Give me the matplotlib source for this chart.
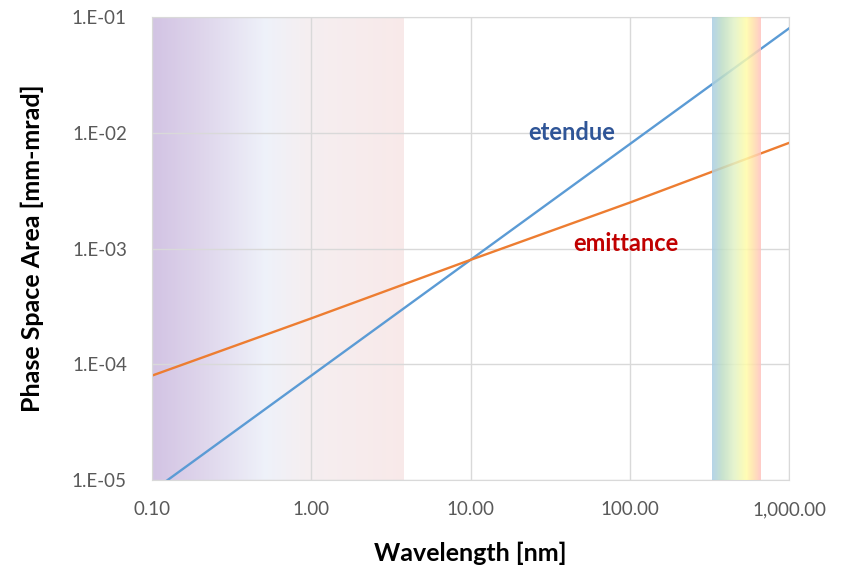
import numpy as np
import matplotlib.pyplot as plt
from matplotlib.colors import LinearSegmentedColormap
from matplotlib.ticker import FixedLocator, FixedFormatter, NullLocator

plt.rcParams['font.family'] = ['Lato', 'DejaVu Sans']

# values
wavelength = [0.1, 1.0, 10.0, 100.0, 1000.0]          # nm
etendue = [8.0e-6, 8.0e-5, 8.0e-4, 8.0e-3, 8.0e-2]     # mm-mrad
emittance = [8.0e-5, 2.5e-4, 8.0e-4, 2.5e-3, 8.2e-3]   # mm-mrad

xticks = [0.1, 1, 10, 100, 1000]
xtick_labels = ['0.10', '1.00', '10.00', '100.00', '1,000.00']
yticks = [1e-5, 1e-4, 1e-3, 1e-2, 1e-1]
ytick_labels = ['1.E-05', '1.E-04', '1.E-03', '1.E-02', '1.E-01']

xray_band = (0.1, 3.8)      # shaded short-wavelength region
visible_band = (330, 665)   # rainbow region

fig = plt.figure(figsize=(8.44, 5.69), dpi=100)
ax = fig.add_axes([0.180, 0.156, 0.755, 0.814])
ax.set_xscale('log')
ax.set_yscale('log')
ax.set_xlim(0.1, 1000)
ax.set_ylim(1e-5, 1e-1)


def band(lo, hi, cmap, **kw):
    # gradient evenly spread on the log axis
    edges = np.logspace(np.log10(lo), np.log10(hi), 200)
    vals = np.linspace(0, 1, 199).reshape(1, -1)
    ax.pcolormesh(edges, [1e-5, 1e-1], vals, cmap=cmap, shading='flat',
                  edgecolors='none', antialiased=False, **kw)


xray_cmap = LinearSegmentedColormap.from_list('xr', [
    (0.0, '#D2C3E3'), (0.2, '#DED5EB'), (0.45, '#EEF1F9'),
    (0.62, '#F5EEF0'), (1.0, '#F8E9E9')])
band(*xray_band, xray_cmap, zorder=0)

vis_cmap = LinearSegmentedColormap.from_list('vis', [
    (0.0, '#A9CDE3'), (0.2, '#BEDDC6'), (0.45, '#E2F2C6'),
    (0.7, '#FFFCA8'), (0.82, '#FFE6A8'), (1.0, '#FFC2BE')])
band(*visible_band, vis_cmap, zorder=3, alpha=0.85)

ax.plot(wavelength, etendue, color='#5B9BD5', lw=1.7, zorder=2)
ax.plot(wavelength, emittance, color='#ED7D31', lw=1.7, zorder=2)

ax.text(43, 1.0e-2, 'etendue', color='#2F5597', fontsize=17,
        fontweight='bold', ha='center', va='center', zorder=4)
ax.text(95, 1.1e-3, 'emittance', color='#C00000', fontsize=17,
        fontweight='bold', ha='center', va='center', zorder=4)

ax.xaxis.set_major_locator(FixedLocator(xticks))
ax.xaxis.set_major_formatter(FixedFormatter(xtick_labels))
ax.xaxis.set_minor_locator(NullLocator())
ax.yaxis.set_major_locator(FixedLocator(yticks))
ax.yaxis.set_major_formatter(FixedFormatter(ytick_labels))
ax.yaxis.set_minor_locator(NullLocator())

ax.grid(True, color='#D9D9D9', lw=1.0, zorder=1)
ax.set_axisbelow(True)
for s in ax.spines.values():
    s.set_color('#D9D9D9')
ax.tick_params(length=0, colors='#595959', labelsize=13.5)
ax.tick_params(axis='x', pad=15)
ax.tick_params(axis='y', pad=18)

ax.set_xlabel('Wavelength [nm]', fontsize=18, fontweight='bold', labelpad=17)
ax.set_ylabel('Phase Space Area [mm-mrad]', fontsize=18, fontweight='bold', labelpad=20)

fig.savefig('out.png', dpi=100)
